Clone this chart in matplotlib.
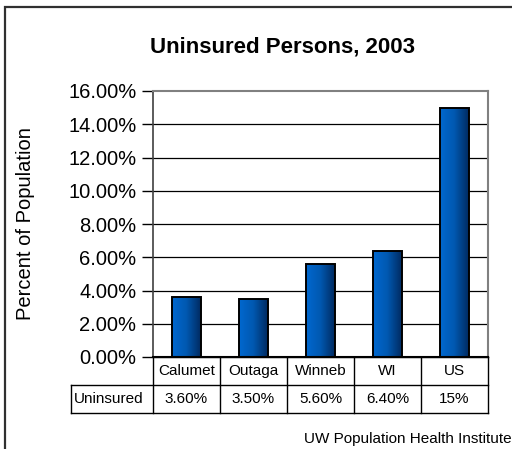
import matplotlib
matplotlib.use("Agg")
import matplotlib.pyplot as plt
import numpy as np
from matplotlib.patches import Rectangle
from matplotlib.colors import LinearSegmentedColormap

categories = ["Calumet", "Outaga", "Winneb", "WI", "US"]
values = [3.6, 3.5, 5.6, 6.4, 15.0]
table_labels = ["3.60%", "3.50%", "5.60%", "6.40%", "15%"]
row_label = "Uninsured"
yticks = [0, 2, 4, 6, 8, 10, 12, 14, 16]

plt.rcParams['font.family'] = ['Liberation Sans', 'DejaVu Sans']

W, H = 512, 449
fig = plt.figure(figsize=(W/100, H/100), dpi=100)

def fx(px): return px / W
def fy(py): return 1 - py / H

# outer frame
fig.patches.append(Rectangle((fx(5), fy(600)), fx(600), fy(7) - fy(600),
                             transform=fig.transFigure, fill=False,
                             edgecolor='#303030', linewidth=1.6, clip_on=False))

L, R, T, B = 153, 488, 91, 357
ax = fig.add_axes([fx(L), fy(B), fx(R) - fx(L), fy(T) - fy(B)])
x = np.arange(len(categories))
ax.set_xlim(-0.5, len(categories) - 0.5)
ax.set_ylim(0, 16)
ax.set_yticks(yticks)
ax.set_yticklabels([f"{v:.2f}%" for v in yticks], fontsize=14.5)
ax.tick_params(axis='y', direction='out', length=8, width=1, pad=4, color='black')
ax.set_xticks([])
for y in yticks[1:-1]:
    ax.axhline(y, color='black', linewidth=0.9, zorder=1)
for s in ['top', 'right']:
    ax.spines[s].set_color('#808080')
    ax.spines[s].set_linewidth(1.5)
ax.spines['left'].set_color('#404040')
ax.spines['left'].set_linewidth(1.2)
ax.spines['bottom'].set_color('black')
ax.spines['bottom'].set_linewidth(1.5)

cmap = LinearSegmentedColormap.from_list('g', ['#0068d0', '#0058b0', '#002a60'])
grad = np.linspace(0, 1, 256).reshape(1, -1)
bars = ax.bar(x, values, width=0.42, color='none', edgecolor='black', linewidth=1.4, zorder=3)
for b in bars:
    x0, y0 = b.get_x(), b.get_y()
    im = ax.imshow(grad, extent=[x0, x0 + b.get_width(), y0, y0 + b.get_height()],
                   aspect='auto', cmap=cmap, zorder=2.5, interpolation='bicubic')
    im.set_clip_path(b)

ax.text(-0.38, 0.5, "Percent of Population", transform=ax.transAxes, rotation=90,
        ha='center', va='center', fontsize=14.5)

# Title
fig.text(fx(283), fy(53), "Uninsured Persons, 2003", ha='center', va='baseline',
         fontsize=16, fontweight='bold')

# Table
TL, TR = 71, 488
tax = fig.add_axes([fx(TL), fy(413), fx(TR) - fx(TL), fy(357) - fy(413)])
tax.set_xlim(TL, TR)
tax.set_ylim(413, 357)
tax.axis('off')
colw = (TR - L) / len(categories)
lw = 1.0
# horizontal lines
tax.plot([L, TR], [357, 357], color='black', lw=lw, clip_on=False)
tax.plot([TL, TR], [385, 385], color='black', lw=lw, clip_on=False)
tax.plot([TL, TR], [413, 413], color='black', lw=lw, clip_on=False)
tax.plot([TL, TL], [385, 413], color='black', lw=lw, clip_on=False)
for i in range(len(categories) + 1):
    xc = L + i * colw
    tax.plot([xc, xc], [357, 413], color='black', lw=lw, clip_on=False)
for i, (c, t) in enumerate(zip(categories, table_labels)):
    xc = L + (i + 0.5) * colw
    tax.text(xc, 371, c, ha='center', va='center', fontsize=11)
    tax.text(xc, 399, t, ha='center', va='center', fontsize=11)
tax.text(TL + 3, 399, row_label, ha='left', va='center', fontsize=11)

fig.text(fx(304), fy(443), "UW Population Health Institute", ha='left', va='baseline',
         fontsize=11)

fig.savefig("out.png", dpi=100)
